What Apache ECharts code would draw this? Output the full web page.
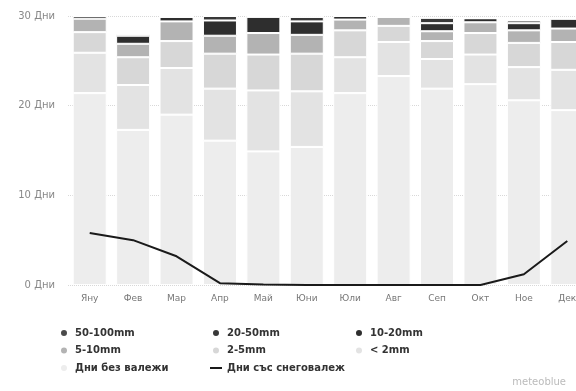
<!DOCTYPE html>
<html>
<head>
<meta charset="utf-8">
<script src="https://cdn.jsdelivr.net/npm/echarts@6/dist/echarts.min.js"></script>
<style>
html,body{margin:0;padding:0;background:#fff;}
#chart{width:576px;height:391px;}
</style>
</head>
<body>
<div id="chart"></div>
<script>
var categories = ['Яну','Фев','Мар','Апр','Май','Юни','Юли','Авг','Сеп','Окт','Ное','Дек'];
var dryDays  = [21.4, 17.3, 19.0, 16.1, 14.9, 15.4, 21.4, 23.3, 21.9, 22.4, 20.6, 19.5];
var lt2mm    = [4.5, 5.0, 5.2, 5.8, 6.8, 6.2, 4.0, 3.8, 3.3, 3.3, 3.7, 4.5];
var mm2_5    = [2.3, 3.1, 3.0, 3.9, 4.0, 4.2, 3.0, 1.8, 2.0, 2.4, 2.7, 3.1];
var mm5_10   = [1.5, 1.5, 2.2, 2.0, 2.4, 2.1, 1.2, 1.0, 1.1, 1.2, 1.4, 1.5];
var mm10_20  = [0.3, 0.9, 0.5, 1.7, 1.8, 1.5, 0.4, 0, 0.9, 0.45, 0.8, 1.1];
var mm20_50  = [0, 0.2, 0, 0.5, 0.1, 0.5, 0, 0, 0.6, 0, 0.3, 0];
var mm50_100 = [0, 0, 0, 0, 0, 0, 0, 0, 0, 0, 0, 0];
var snowDays = [5.8, 5.0, 3.2, 0.2, 0.05, 0, 0, 0, 0, 0, 1.2, 4.9];
var yTicks = [0, 10, 20, 30];

var names = {
  dry: 'Дни без валежи', lt2: '< 2mm', m2_5: '2-5mm', m5_10: '5-10mm',
  m10_20: '10-20mm', m20_50: '20-50mm', m50_100: '50-100mm', snow: 'Дни със снеговалеж'
};
var colors = {
  dry: '#ededed', lt2: '#e3e3e3', m2_5: '#d7d7d7', m5_10: '#b3b3b3',
  m10_20: '#2e2e2e', m20_50: '#383838', m50_100: '#4a4a4a'
};

function barSeries(key, data) {
  return {
    name: names[key], type: 'bar', stack: 'days', data: data, barWidth: 34,
    itemStyle: { color: colors[key], borderColor: '#ffffff', borderWidth: 1 },
    emphasis: { disabled: true }
  };
}

var font = 'DejaVu Sans';
var legendText = { color: '#333', fontSize: 10, fontWeight: 'bold', fontFamily: font, lineHeight: 12 };
var lineIcon = 'path://M0,0 L12,0 L12,2 L0,2 Z';

function legend(left, items) {
  return {
    orient: 'vertical', left: left, top: 327, padding: 0, itemGap: 5.5,
    itemWidth: 12, itemHeight: 8, textStyle: legendText, selectedMode: false,
    data: items
  };
}

var chart = echarts.init(document.getElementById('chart'));
chart.setOption({
  animation: false,
  backgroundColor: '#fff',
  grid: { left: 68, top: 16, width: 521, height: 269, containLabel: false, outerBoundsMode: 'none' },
  xAxis: {
    type: 'category', data: categories,
    axisLine: { show: false }, axisTick: { show: false },
    axisLabel: { color: '#777', fontSize: 9, fontFamily: font, margin: 9 }
  },
  yAxis: {
    type: 'value', min: yTicks[0], max: yTicks[yTicks.length - 1], interval: 10,
    axisLine: { show: false }, axisTick: { show: false },
    axisLabel: { color: '#888', fontSize: 10, fontFamily: font, margin: 13, formatter: '{value} Дни' },
    splitLine: { lineStyle: { color: '#d8d8d8', type: 'dotted' } }
  },
  legend: [
    legend(59, [{ name: names.m50_100, icon: 'circle' }, { name: names.m5_10, icon: 'circle' }, { name: names.dry, icon: 'circle' }]),
    legend(210, [{ name: names.m20_50, icon: 'circle' }, { name: names.m2_5, icon: 'circle' }, { name: names.snow, icon: lineIcon }]),
    legend(354, [{ name: names.m10_20, icon: 'circle' }, { name: names.lt2, icon: 'circle' }])
  ],
  graphic: [{
    type: 'text', right: 10, bottom: 4,
    style: { text: 'meteoblue', fill: '#bbb', font: '10px "DejaVu Sans"' }
  }],
  series: [
    barSeries('dry', dryDays),
    barSeries('lt2', lt2mm),
    barSeries('m2_5', mm2_5),
    barSeries('m5_10', mm5_10),
    barSeries('m10_20', mm10_20),
    barSeries('m20_50', mm20_50),
    barSeries('m50_100', mm50_100),
    {
      name: names.snow, type: 'line', data: snowDays, symbol: 'none', smooth: false,
      lineStyle: { color: '#1a1a1a', width: 2 }, itemStyle: { color: '#1a1a1a' },
      z: 10, emphasis: { disabled: true }
    }
  ]
});
</script>
</body>
</html>
